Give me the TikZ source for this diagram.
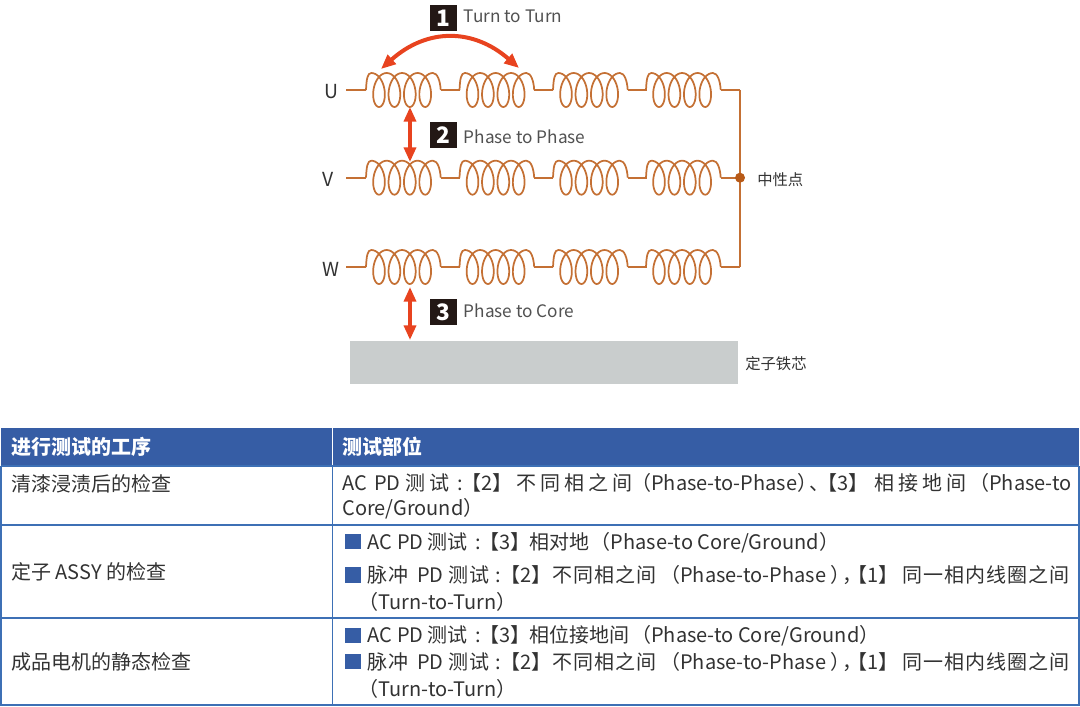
\documentclass[tikz,border=0pt]{standalone}
\usepackage{fontspec}
\usepackage{xcolor}
\setmainfont{Noto Sans CJK SC}
\usetikzlibrary{arrows.meta}
\definecolor{cCoil}{RGB}{196,112,52}
\definecolor{cDot}{RGB}{184,90,23}
\definecolor{cArrow}{RGB}{232,67,31}
\definecolor{cBox}{RGB}{35,24,21}
\definecolor{cHead}{RGB}{54,93,165}
\definecolor{cRule}{RGB}{61,112,181}
\definecolor{cCore}{RGB}{201,205,205}
\definecolor{cText}{RGB}{50,50,50}
\tikzset{
  coilline/.style={cCoil,line width=1.3pt},
  testarrow/.style={cArrow,line width=2.6pt,{Triangle[length=11pt,width=9pt]}-{Triangle[length=11pt,width=9pt]}},
  numbox/.style={fill=cBox,text=white,minimum size=20pt,inner sep=0pt,font=\fontsize{17}{17}\selectfont\bfseries},
  testlabel/.style={anchor=west,inner sep=0pt,text=cText!85,font=\fontsize{12.9}{13}\selectfont},
  phaselabel/.style={inner sep=0pt,text=cText,font=\fontsize{14.5}{15}\selectfont},
  smalllabel/.style={anchor=west,inner sep=0pt,text=cText,font=\fontsize{11.5}{12}\selectfont},
  headtext/.style={anchor=west,inner sep=0pt,text=white,font=\fontsize{15}{16}\selectfont\bfseries},
  celltext/.style={anchor=west,inner sep=0pt,text=cText,font=\fontsize{15}{16}\selectfont},
  bulletbox/.style={fill=cHead,minimum width=12pt,minimum height=11.6pt,inner sep=0pt},
  tablerule/.style={cRule,line width=1.2pt}
}
% one coil, first lower turn at x=#1, axis at y=#2
\newcommand{\coilat}[2]{
  \draw[coilline,line join=round] (#1-13,#2) .. controls (#1-12.5,#2-11) and (#1-11.5,#2-17) .. (#1-7.7,#2-17)
    -- plot[variable=\t,domain=0:1440,samples=145,smooth] ({#1-7.7+0.04278*\t+9.4*sin(\t)},{#2-17*cos(\t)})
    .. controls (#1+58.5,#2-17) and (#1+61.2,#2-9) .. (#1+61.7,#2);
}
% a piece of a table line, #1 pixels wide
\newcommand{\segbox}[2]{\makebox[\dimexpr #1pt*3/4\relax][l]{#2}}
\newcommand{\spreadA}[1]{{\addfontfeature{LetterSpace=20}#1}}
\newcommand{\spreadB}[1]{{\addfontfeature{LetterSpace=5.5}#1}}
% the pulse test line, used twice
\newcommand{\pulseline}{\segbox{50}{\spreadB{脉冲}}\segbox{31}{PD}\segbox{47}{\spreadB{测试}}\segbox{5}{:}\segbox{52}{【2】}\segbox{108}{\spreadB{不同相之间}}\segbox{170}{（Phase-to-Phase}\segbox{12}{）}\segbox{5}{，}\segbox{55}{【1】}\spreadB{同一相内线圈之间}}
\begin{document}
\begin{tikzpicture}[x=0.75pt,y=-0.75pt]
  \useasboundingbox (0,0) rectangle (1080,706);
  % three phases
  \foreach \yc/\name/\lx in {90/U/331,177.7/V/328,267/W/331} {
    \node[phaselabel] (phase\name) at (\lx,\yc+2) {\name};
    \draw[coilline] (346,\yc) -- (366,\yc);
    \foreach \xc in {379,472.5,566,659} {
      \coilat{\xc}{\yc}
    }
    \foreach \xc in {379,472.5,566} {
      \draw[coilline] (\xc+61.7,\yc) -- (\xc+80.5,\yc);
    }
    \draw[coilline] (720.7,\yc) -- (740,\yc);
  }
  % neutral point
  \draw[coilline] (740,90) -- (740,267);
  \node[circle,fill=cDot,minimum size=7.5pt,inner sep=0pt] (neutral) at (740,177.7) {};
  \node[smalllabel] (neutrallabel) at (757,179.5) {中性点};
  % core
  \fill[cCore] (350,341) rectangle (738,384);
  \node[smalllabel] (corelabel) at (745,364) {定子铁芯};
  % test arrows
  \coordinate (turnA) at (381,69);
  \coordinate (turnB) at (519,68);
  \coordinate (phaseA) at (410,107);
  \coordinate (phaseB) at (410,162);
  \coordinate (coreA) at (410,287);
  \coordinate (coreB) at (410,340);
  \draw[testarrow,line width=3pt] (turnA) .. controls (427,28) and (473,28) .. (turnB);
  \draw[testarrow] (phaseA) -- (phaseB);
  \draw[testarrow] (coreA) -- (coreB);
  % numbered labels
  \node[numbox] (boxA) at (443.5,18) {1};
  \node[testlabel] (labelA) at (463.5,16) {Turn to Turn};
  \node[numbox] (boxB) at (443.5,135) {2};
  \node[testlabel] (labelB) at (463.5,137) {Phase to Phase};
  \node[numbox] (boxC) at (443.5,312) {3};
  \node[testlabel] (labelC) at (463.5,311) {Phase to Core};
  % table
  \fill[cHead] (1,428) rectangle (1079,466);
  \draw[white,line width=1.2pt] (332.5,428) -- (332.5,466);
  \draw[tablerule] (1,466) -- (1,705) -- (1079,705) -- (1079,466);
  \draw[tablerule] (1,466) -- (1079,466);
  \draw[tablerule] (1,525) -- (1079,525);
  \draw[tablerule] (1,618) -- (1079,618);
  \draw[tablerule] (332.5,466) -- (332.5,705);
  \node[headtext] (headA) at (11,447) {进行测试的工序};
  \node[headtext] (headB) at (342,447) {测试部位};
  \node[celltext] (stepA) at (11,484) {清漆浸渍后的检查};
  \node[celltext] (stepB) at (11,572) {定子 ASSY 的检查};
  \node[celltext] (stepC) at (11,662) {成品电机的静态检查};
  % first row
  \node[celltext] (partA) at (342,483) {\segbox{32}{AC}\segbox{31}{PD}\segbox{24.5}{测}\segbox{27.5}{试}\segbox{4}{:}\segbox{55}{【2】}\segbox{115}{\spreadA{不同相之间}}\segbox{166}{（Phase-to-Phase}\segbox{12}{）}\segbox{8}{、}\segbox{57}{【3】}\segbox{95}{\spreadA{相接地间}}（Phase-to};
  \node[celltext] (partAb) at (342,509) {Core/Ground）};
  % second row
  \node[bulletbox] (markB) at (353,541.5) {};
  \node[celltext] (partB) at (367,543) {\segbox{30}{AC}\segbox{30}{PD}\segbox{48}{测试}\segbox{4}{:}\segbox{50}{【3】}\segbox{61.5}{相对地}（Phase-to Core/Ground）};
  \node[bulletbox] (markC) at (353,575) {};
  \node[celltext] (partC) at (367,575.5) {\pulseline};
  \node[celltext] (partCb) at (358.5,602) {（Turn-to-Turn）};
  % third row
  \node[bulletbox] (markD) at (353,635.5) {};
  \node[celltext] (partD) at (367,636) {\segbox{30}{AC}\segbox{30}{PD}\segbox{48}{测试}\segbox{4}{:}\segbox{50}{【3】}\segbox{102}{相位接地间}（Phase-to Core/Ground）};
  \node[bulletbox] (markE) at (353,661.5) {};
  \node[celltext] (partE) at (367,662) {\pulseline};
  \node[celltext] (partEb) at (358.5,689) {（Turn-to-Turn）};
\end{tikzpicture}
\end{document}
